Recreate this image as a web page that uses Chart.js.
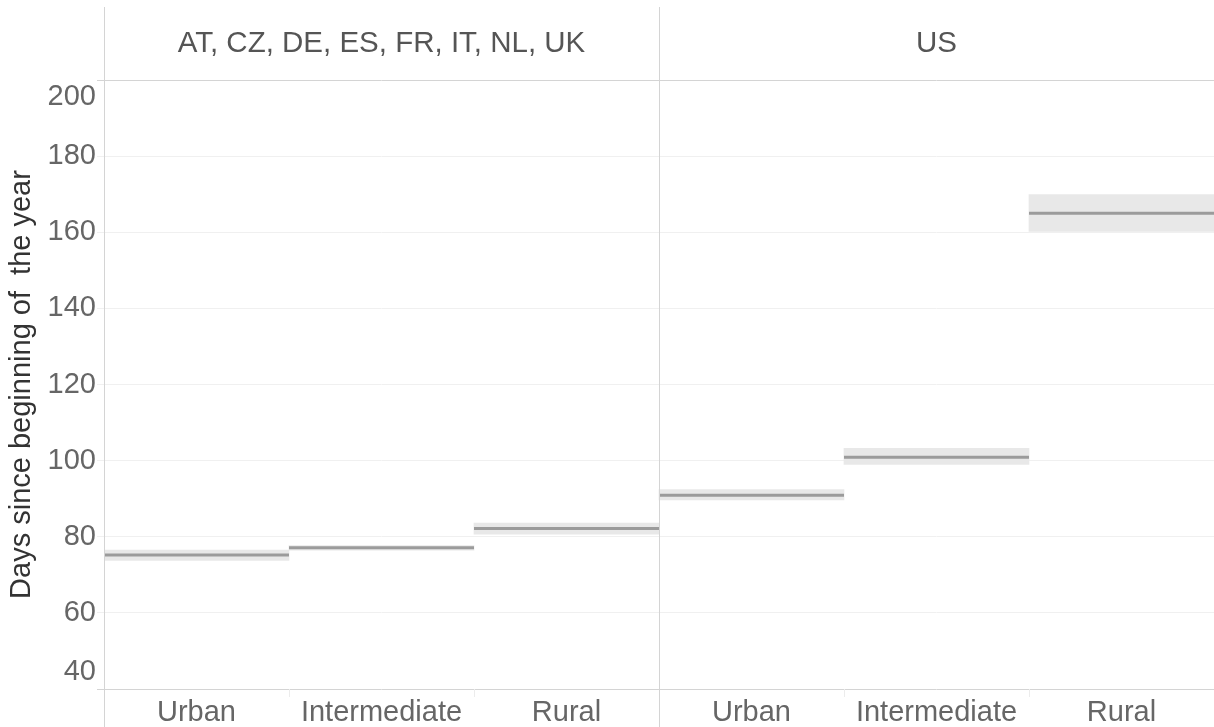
<!DOCTYPE html>
<html>
<head>
<meta charset="utf-8">
<script src="https://cdn.jsdelivr.net/npm/chart.js@4.4.1/dist/chart.umd.min.js"></script>
<style>
  html, body { margin: 0; padding: 0; background: #fff; }
  #wrap { width: 1214px; height: 727px; }
</style>
</head>
<body>
<div id="wrap"><canvas id="myChart" width="1214" height="727"></canvas></div>
<script>
// Paneles y categorías
const panels = ['AT, CZ, DE, ES, FR, IT, NL, UK', 'US'];
const regions = ['Urban', 'Intermediate', 'Rural'];

// Mediana y banda (días desde el inicio del año)
const europeMedian = [75.2, 77.1, 82.2];
const europeLow = [73.8, 76.5, 80.7];
const europeHigh = [76.5, 77.7, 83.6];
const usMedian = [90.9, 100.9, 165.0];
const usLow = [89.7, 99.0, 160.2];
const usHigh = [92.4, 103.2, 169.9];

// Eje Y
const yMin = 40;
const yMax = 200;
const yStep = 20;
const yTitle = 'Days since beginning of  the year';

const FONT = "'Liberation Sans', Arial, Helvetica, sans-serif";
const AXIS_COLOR = '#d4d4d4';

const labels = [...regions, ...regions];
const medians = [...europeMedian, ...usMedian];
const lows = [...europeLow, ...usLow];
const highs = [...europeHigh, ...usHigh];

// Bandas como barras flotantes centradas en cada categoría
const bandData = labels.map((l, i) => ({ x: i + 0.5, y: [lows[i], highs[i]] }));

// Mediana: un segmento por categoría, cortado con null
const medianData = [];
medians.forEach((m, i) => {
  medianData.push({ x: i, y: m });
  medianData.push({ x: i + 1, y: m });
  medianData.push({ x: i + 1, y: null });
});

// Plugin para cabeceras, separadores y etiquetas de los extremos
const facetPlugin = {
  id: 'facets',
  afterDraw(chart) {
    const { ctx, scales } = chart;
    const x = scales.x;
    const y = scales.y;
    const left = x.getPixelForValue(0);
    const mid = x.getPixelForValue(3);
    const right = x.getPixelForValue(6);
    ctx.save();

    // Líneas verticales a toda altura
    ctx.strokeStyle = AXIS_COLOR;
    ctx.lineWidth = 1;
    [left, mid].forEach((px) => {
      ctx.beginPath();
      ctx.moveTo(Math.round(px) + 0.5, 7);
      ctx.lineTo(Math.round(px) + 0.5, 727);
      ctx.stroke();
    });

    // Separadores tenues entre categorías bajo el eje
    ctx.strokeStyle = '#ececec';
    [1, 2, 4, 5].forEach((v) => {
      const px = Math.round(x.getPixelForValue(v)) + 0.5;
      ctx.beginPath();
      ctx.moveTo(px, y.getPixelForValue(yMin));
      ctx.lineTo(px, y.getPixelForValue(yMin) + 8);
      ctx.stroke();
    });

    // Títulos de los paneles
    ctx.fillStyle = '#555';
    ctx.font = '29.5px ' + FONT;
    ctx.textAlign = 'center';
    ctx.textBaseline = 'middle';
    ctx.fillText(panels[0], (left + mid) / 2, 44);
    ctx.fillText(panels[1], (mid + right) / 2, 44);

    // Etiquetas 200 y 40 desplazadas hacia dentro
    ctx.fillStyle = '#666';
    ctx.font = '29px ' + FONT;
    ctx.textAlign = 'right';
    ctx.fillText(String(yMax), y.right - 8, y.getPixelForValue(yMax) + 17);
    ctx.fillText(String(yMin), y.right - 8, y.getPixelForValue(yMin) - 17);
    ctx.restore();
  },
};

const ctx = document.getElementById('myChart').getContext('2d');
const myChart = new Chart(ctx, {
  type: 'bar',
  data: {
    datasets: [
      {
        type: 'line',
        label: 'Median',
        data: medianData,
        borderColor: '#9b9b9b',
        borderWidth: 3,
        pointRadius: 0,
        spanGaps: false,
        tension: 0,
        order: 0,
      },
      {
        type: 'bar',
        label: 'Band',
        data: bandData,
        backgroundColor: '#e8e8e8',
        borderWidth: 0,
        barPercentage: 1,
        categoryPercentage: 1,
        grouped: false,
        order: 1,
      },
    ],
  },
  options: {
    responsive: false,
    devicePixelRatio: 1,
    animation: false,
    layout: { padding: { top: 80, right: 0, left: 0, bottom: 0 } },
    plugins: {
      legend: { display: false },
      tooltip: { enabled: false },
    },
    scales: {
      x: {
        type: 'linear',
        min: 0,
        max: 6,
        offset: false,
        grid: { display: false, drawTicks: false },
        border: { display: false },
        afterBuildTicks(scale) {
          scale.ticks = labels.map((l, i) => ({ value: i + 0.5 }));
        },
        afterFit(scale) {
          scale.height = 38;
        },
        ticks: {
          autoSkip: false,
          maxRotation: 0,
          padding: 7,
          color: '#666',
          font: { family: FONT, size: 29 },
          callback: (value, index) => labels[index],
        },
      },
      y: {
        min: yMin,
        max: yMax,
        afterFit(scale) {
          scale.width = 104;
        },
        border: { display: false },
        grid: {
          color: (c) => (c.tick && (c.tick.value === yMin || c.tick.value === yMax) ? AXIS_COLOR : '#f0f0f0'),
          tickColor: (c) => (c.tick && (c.tick.value === yMin || c.tick.value === yMax) ? AXIS_COLOR : '#f0f0f0'),
          tickLength: 7,
        },
        ticks: {
          stepSize: yStep,
          padding: 1,
          color: '#666',
          font: { family: FONT, size: 29 },
          callback: (value) => (value === yMin || value === yMax ? '' : value),
        },
        title: {
          display: true,
          text: yTitle,
          color: '#333',
          padding: { top: 5, bottom: 0 },
          font: { family: FONT, size: 29 },
        },
      },
    },
  },
  plugins: [facetPlugin],
});
</script>
</body>
</html>
